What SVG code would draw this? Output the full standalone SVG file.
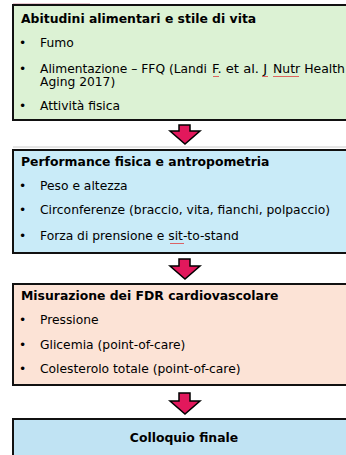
<svg xmlns="http://www.w3.org/2000/svg" width="346" height="455" viewBox="0 0 346 455">
<defs>
<style>
.box{stroke:#111;stroke-width:2}
.title{font-family:"DejaVu Sans",Verdana,sans-serif;font-weight:bold;font-size:12.4px;fill:#000}
.txt{font-family:"DejaVu Sans",Verdana,sans-serif;font-size:12.3px;fill:#000}
.arrow{fill:#E2185C;stroke:#000;stroke-width:1.5;stroke-linejoin:miter}
.sq{fill:none;stroke:#e04040;stroke-width:0.8}
</style>
</defs>
<rect width="346" height="455" fill="#fff"/>
<line x1="13" y1="3.5" x2="90" y2="3.5" stroke="#e8c8d0" stroke-width="1"/>
<g id="node1">
<rect class="box" x="13" y="5" width="360" height="115" fill="#DCF2D4"/>
<text class="title" x="21" y="23">Abitudini alimentari e stile di vita</text>
<text class="txt" x="19" y="47">•</text><text class="txt" x="40" y="47">Fumo</text>
<text class="txt" x="19" y="73">•</text>
<text class="txt" x="40" y="73" textLength="167" lengthAdjust="spacingAndGlyphs">Alimentazione – FFQ (Landi</text>
<text class="txt" x="212" y="73" textLength="55" lengthAdjust="spacingAndGlyphs">F. et al. J</text>
<text class="txt" x="273" y="73" textLength="72" lengthAdjust="spacingAndGlyphs">Nutr Health</text>
<text class="txt" x="40" y="86">Aging 2017)</text>
<text class="txt" x="19" y="110">•</text><text class="txt" x="40" y="110">Attività fisica</text>
<path class="sq" d="M213,76 l1,1 l1,-1 l1,1 l1,-1 l1,1 l1,-1"/>
<path class="sq" d="M262,76 l1,1 l1,-1 l1,1 l1,-1 l1,1 l1,-1"/>
<path class="sq" d="M273,76 l1,1 l1,-1 l1,1 l1,-1 l1,1 l1,-1 l1,1 l1,-1 l1,1 l1,-1 l1,1 l1,-1 l1,1 l1,-1 l1,1 l1,-1 l1,1 l1,-1 l1,1 l1,-1 l1,1 l1,-1 l1,1 l1,-1 l1,1 l1,-1"/>
</g>
<g id="node2">
<rect class="box" x="13" y="150" width="360" height="103" fill="#C9EBF8"/>
<text class="title" x="21" y="166">Performance fisica e antropometria</text>
<text class="txt" x="19" y="190">•</text><text class="txt" x="40" y="190">Peso e altezza</text>
<text class="txt" x="19" y="214">•</text><text class="txt" x="40" y="214" textLength="290" lengthAdjust="spacingAndGlyphs">Circonferenze (braccio, vita, fianchi, polpaccio)</text>
<text class="txt" x="19" y="240">•</text><text class="txt" x="40" y="240">Forza di prensione e sit-to-stand</text>
<path class="sq" d="M170,243 l1,1 l1,-1 l1,1 l1,-1 l1,1 l1,-1 l1,1 l1,-1 l1,1 l1,-1 l1,1 l1,-1 l1,1 l1,-1"/>
</g>
<g id="node3">
<rect class="box" x="13" y="284" width="360" height="101" fill="#FCE3D6"/>
<text class="title" x="21" y="300">Misurazione dei FDR cardiovascolare</text>
<text class="txt" x="19" y="324">•</text><text class="txt" x="40" y="324">Pressione</text>
<text class="txt" x="19" y="349">•</text><text class="txt" x="40" y="349">Glicemia (point-of-care)</text>
<text class="txt" x="19" y="373">•</text><text class="txt" x="40" y="373">Colesterolo totale (point-of-care)</text>
</g>
<g id="node4">
<rect class="box" x="13" y="419" width="360" height="50" fill="#C0E3F3"/>
<text class="title" x="184" y="442" text-anchor="middle">Colloquio finale</text>
</g>
<g id="connectors">
<line x1="13" y1="147" x2="346" y2="147" stroke="#ccc" stroke-width="1"/>
<path class="arrow" d="M179,125 H190 V131 H200 L185,144 L170,131 H179 Z"/>
<path class="arrow" d="M179,259 H190 V266 H200 L185,279 L170,266 H179 Z"/>
<path class="arrow" d="M179,393 H190 V401 H200 L185,414 L170,401 H179 Z"/>
</g>
</svg>
